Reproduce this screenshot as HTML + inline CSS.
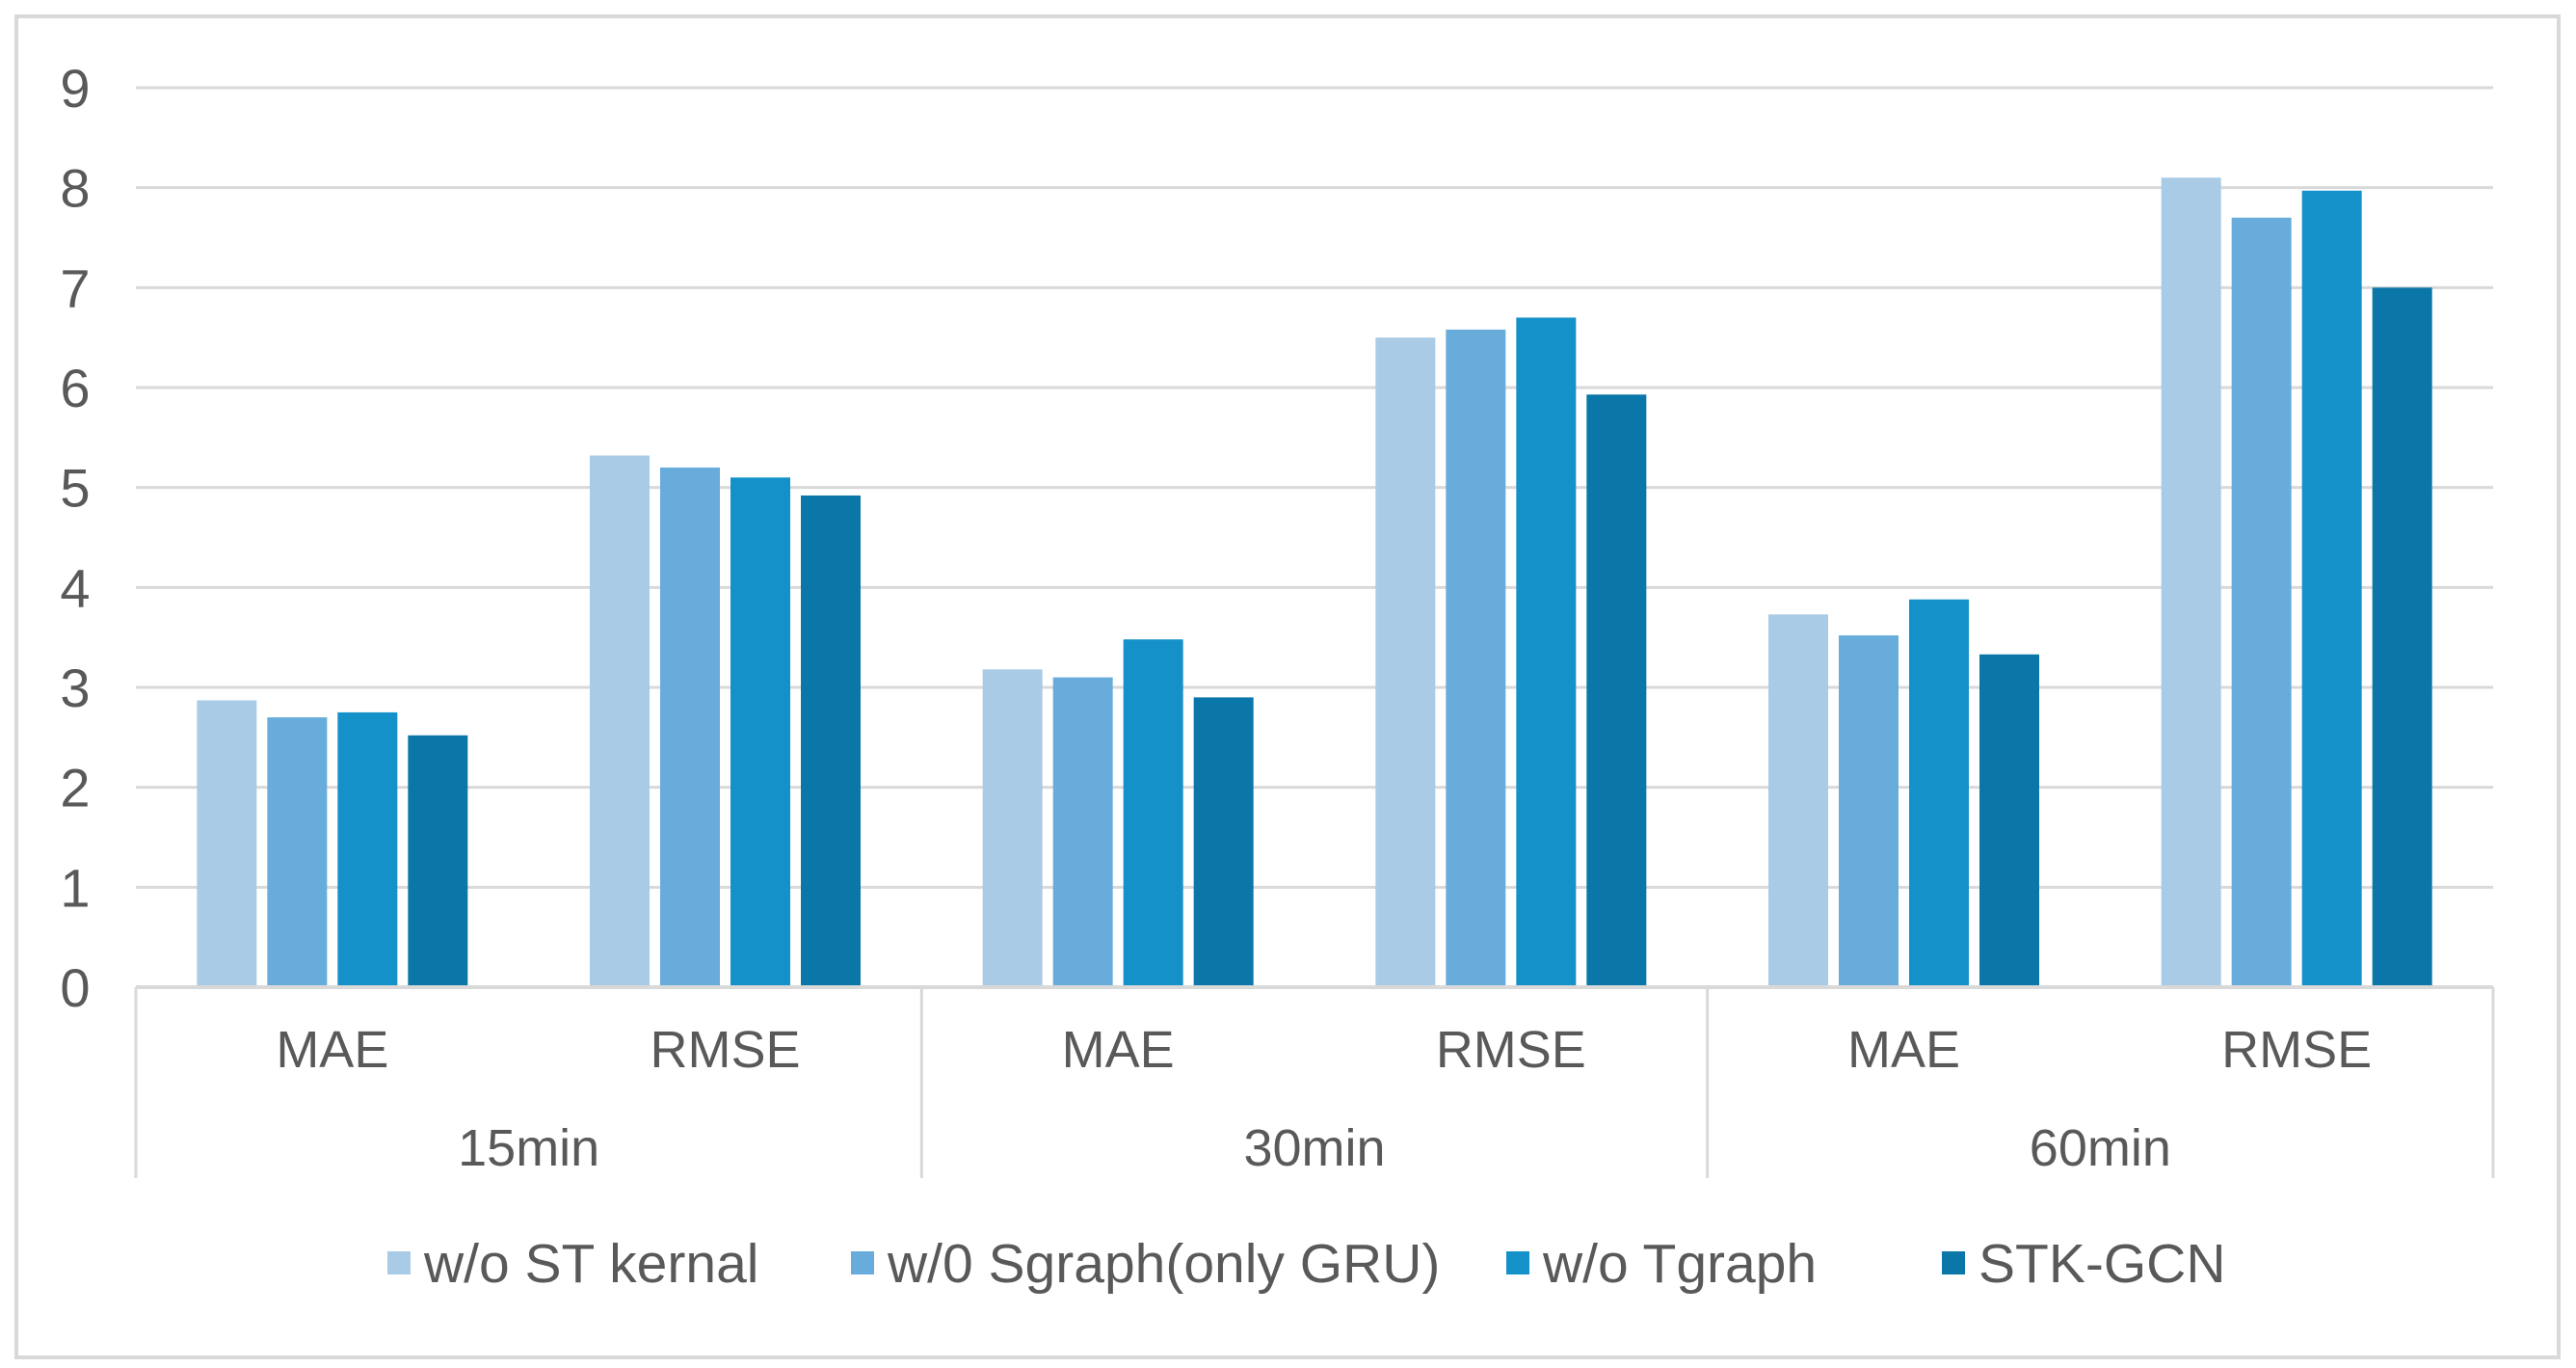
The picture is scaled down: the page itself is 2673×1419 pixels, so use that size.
<!DOCTYPE html>
<html><head><meta charset="utf-8"><style>html,body{margin:0;padding:0;background:#fff}svg{display:block}</style></head>
<body>
<svg width="2673" height="1419" xmlns="http://www.w3.org/2000/svg" font-family="'Liberation Sans', sans-serif">
<rect x="17" y="17" width="2638" height="1391" fill="#fff" stroke="#d9d9d9" stroke-width="4"/>
<g id="grid"></g><g id="bars"></g><g id="xaxis"></g><g id="legend"></g>
</svg>
<script>
const categories = ["MAE","RMSE","MAE","RMSE","MAE","RMSE"];
const groups = ["15min","30min","60min"];
const seriesNames = ["w/o ST kernal","w/0 Sgraph(only GRU)","w/o Tgraph","STK-GCN"];
const s1 = [2.87,5.32,3.18,6.5,3.73,8.1];
const s2 = [2.7,5.2,3.1,6.58,3.52,7.7];
const s3 = [2.75,5.1,3.48,6.7,3.88,7.97];
const s4 = [2.52,4.92,2.9,5.93,3.33,7.0];
const yTicks = [0,1,2,3,4,5,6,7,8,9];
const NS="http://www.w3.org/2000/svg";
const colors=["#a9cbe6","#68acdb","#1591c9","#0b77a8"];
const L=141,R=2587,Y0=1024,Y9=91,BOT=1222;
const y=v=>Y0-(v/9)*(Y0-Y9);
const cw=(R-L)/categories.length;
const x=i=>L+i*cw;
function mk(t,a,p){const e=document.createElementNS(NS,t);for(const k in a)e.setAttribute(k,a[k]);p.appendChild(e);return e;}
const grid=document.getElementById('grid');
yTicks.forEach(t=>{
  if(t>0){const ln=mk('line',{x1:L,x2:R,y1:y(t),y2:y(t),stroke:'#d9d9d9','stroke-width':3},grid);
  
  }
  const tx=mk('text',{x:78,y:y(t)+20,'text-anchor':'middle','font-size':56,fill:'#595959'},grid);
  tx.textContent=t;
  
  
});
const bars=document.getElementById('bars');
const series=[s1,s2,s3,s4];
const bw=62,gap=11,pad=(cw-(4*bw+3*gap))/2;
series.forEach((s,si)=>s.forEach((v,ci)=>{
  const r=mk('rect',{x:x(ci)+pad+si*(bw+gap),y:y(v),width:bw,height:Y0-y(v),fill:colors[si]},bars);
  
  
}));
const xa=document.getElementById('xaxis');
const ax=mk('line',{x1:L,x2:R,y1:Y0,y2:Y0,stroke:'#d9d9d9','stroke-width':4},xa);


for(let g=0;g<=groups.length;g++){
  const gx=x(g*2);
  const ln=mk('line',{x1:gx,x2:gx,y1:Y0,y2:BOT,stroke:'#d9d9d9','stroke-width':3},xa);
  
  
}
categories.forEach((c,i)=>{
  const t=mk('text',{x:x(i)+cw/2,y:1107,'text-anchor':'middle','font-size':54,fill:'#595959'},xa);
  t.textContent=c;
  
  
});
groups.forEach((g,i)=>{
  const t=mk('text',{x:x(i*2)+cw,y:1209,'text-anchor':'middle','font-size':54,fill:'#595959'},xa);
  t.textContent=g;
  
  
});
const lg=document.getElementById('legend');
const lx=[402,883,1563,2015];
seriesNames.forEach((n,i)=>{
  const r=mk('rect',{x:lx[i],y:1298,width:24,height:24,fill:colors[i]},lg);
  
  
  const t=mk('text',{x:lx[i]+38,y:1330,'font-size':57,fill:'#595959'},lg);
  t.textContent=n;
  
  
});
</script>
</body></html>
